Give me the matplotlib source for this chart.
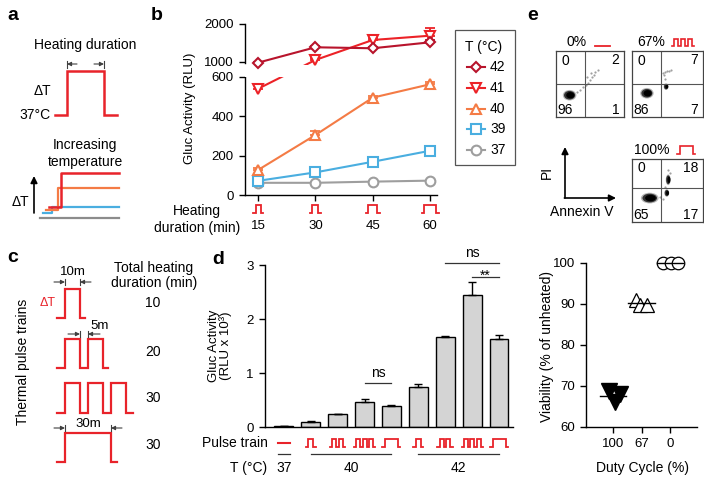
import numpy as np
import matplotlib
matplotlib.use("Agg")
import matplotlib.pyplot as plt
from matplotlib.patches import Rectangle, Ellipse
from matplotlib.lines import Line2D

plt.rcParams['font.family'] = ['Liberation Sans', 'DejaVu Sans']
plt.rcParams['font.size'] = 9.5
plt.rcParams['axes.linewidth'] = 1.0
plt.rcParams['xtick.major.width'] = 1.0
plt.rcParams['ytick.major.width'] = 1.0
plt.rcParams['xtick.major.size'] = 3.5
plt.rcParams['ytick.major.size'] = 3.5

# ------------------------------------------------------------------ data
durations = [15, 30, 45, 60]
duration_labels = ['15', '30', '45', '60']
temp_labels = ['42', '41', '40', '39', '37']
gluc_42 = [982, 1387, 1361, 1518]
gluc_41 = [540, 1053, 1579, 1692]
gluc_40 = [127, 305, 495, 563]
gluc_39 = [72, 115, 169, 225]
gluc_37 = [62, 62, 68, 73]
err_42 = [20, 30, 40, 60]
err_41 = [20, 40, 60, 195]
err_40 = [12, 22, 10, 10]
err_39 = [5, 8, 8, 10]
err_37 = [3, 3, 3, 3]
b_yticks = [0, 200, 400, 600, 1000, 2000]

d_pulse_types = ['none', 'p1', 'p2', 'p3', 'long', 'p1', 'p2', 'p3', 'long']
d_values = [0.02, 0.10, 0.24, 0.46, 0.39, 0.74, 1.66, 2.44, 1.63]
d_errors = [0.005, 0.01, 0.005, 0.05, 0.02, 0.05, 0.02, 0.25, 0.08]
d_temp_labels = ['37', '40', '42']
d_yticks = [0, 1, 2, 3]

duty_labels = ['100', '67', '0']
viab_100 = [68.7, 68.1, 66.2]
viab_67 = [90.9, 89.8, 89.8]
viab_0 = [100.0, 100.0, 100.0]
jit_100 = [-0.14, 0.25, 0.06]
jit_67 = [-0.21, -0.04, 0.19]
jit_0 = [-0.25, 0.03, 0.28]
viab_yticks = [60, 70, 80, 90, 100]

flow_titles = ['0%', '67%', '100%']
flow_quadrants = [[0, 2, 96, 1], [0, 7, 86, 7], [0, 18, 65, 17]]  # UL, UR, LL, LR
# dense cell populations per plot: centre x, centre y (axes fraction)
flow_pop_x = [[0.20], [0.21, 0.48], [0.25, 0.51, 0.49]]
flow_pop_y = [[0.33], [0.36, 0.46], [0.38, 0.67, 0.46]]
# sparse events per plot
flow_dot_x = [[0.31, 0.36, 0.40, 0.44, 0.47, 0.50, 0.53, 0.56, 0.58, 0.62, 0.52, 0.45],
              [0.43, 0.46, 0.49, 0.52, 0.55, 0.47, 0.45],
              [0.40, 0.44, 0.47, 0.53, 0.50]]
flow_dot_y = [[0.38, 0.41, 0.45, 0.48, 0.52, 0.56, 0.60, 0.64, 0.68, 0.71, 0.66, 0.60],
              [0.66, 0.68, 0.70, 0.69, 0.71, 0.58, 0.64],
              [0.40, 0.36, 0.56, 0.78, 0.82]]

c_durations = ['10', '20', '30', '30']

# ------------------------------------------------------------------ figure
W, H = 704, 480
fig = plt.figure(figsize=(7.04, 4.8), dpi=100)
RED = '#e8232a'
DARK = '#404040'


def rect(x0, y0, x1, y1):
    return [x0 / W, 1 - y1 / H, (x1 - x0) / W, (y1 - y0) / H]


ov = fig.add_axes([0, 0, 1, 1], zorder=10)
ov.set_xlim(0, W)
ov.set_ylim(H, 0)
ov.axis('off')
ov.patch.set_visible(False)


def px(ax, x, y):
    d = ax.transData.transform((x, y))
    return d[0], H - d[1]


def pulse(x0, yb, h, on, off, n, lead_in, lead_out, color=RED, lw=1.6):
    xs = [x0]
    ys = [yb]
    x = x0 + lead_in
    xs.append(x); ys.append(yb)
    for i in range(n):
        xs += [x, x + on, x + on]
        ys += [yb - h, yb - h, yb]
        x += on
        if i < n - 1:
            x += off
            xs.append(x); ys.append(yb)
    x += lead_out
    xs.append(x); ys.append(yb)
    ov.plot(xs, ys, color=color, lw=lw, solid_joinstyle='miter', clip_on=False)


def pulse_c(cx, yb, h, on, off, n, lead, color=RED, lw=1.3):
    total = 2 * lead + n * on + (n - 1) * off
    pulse(cx - total / 2, yb, h, on, off, n, lead, lead, color, lw)


def arrow(x1, y1, x2, y2, lw=0.8, color=DARK, ms=6):
    ov.annotate('', xy=(x2, y2), xytext=(x1, y1),
                arrowprops=dict(arrowstyle='-|>', lw=lw, color=color,
                                mutation_scale=ms, shrinkA=0, shrinkB=0))


def dim_outside(xl, xr, y, L=11):
    arrow(xl - L, y, xl, y)
    arrow(xr + L, y, xr, y)
    ov.plot([xl, xl], [y - 3, y + 3], color=DARK, lw=0.8)
    ov.plot([xr, xr], [y - 3, y + 3], color=DARK, lw=0.8)


def dim_inside(xl, xr, y, L=10):
    arrow(xl + L, y, xl, y)
    arrow(xr - L, y, xr, y)
    ov.plot([xl, xl], [y - 3.5, y + 3.5], color=DARK, lw=0.8)
    ov.plot([xr, xr], [y - 3.5, y + 3.5], color=DARK, lw=0.8)


LET = dict(fontsize=14, fontweight='bold', ha='left', va='center')

# ------------------------------------------------------------------ panel a
ov.text(7, 16, 'a', **LET)
ov.text(85, 45, 'Heating duration', ha='center', va='center', fontsize=10)
dim_inside(67, 104, 64)
pulse(55, 115, 44, 37, 0, 1, 12, 13, lw=1.8)
ov.text(42, 91, 'ΔT', ha='center', va='center', fontsize=10)
ov.text(51, 115, '37°C', ha='right', va='center', fontsize=10)
ov.text(85, 145, 'Increasing', ha='center', va='center', fontsize=10)
ov.text(85, 162, 'temperature', ha='center', va='center', fontsize=10)
arrow(34, 213, 34, 176, lw=1.2, color='black', ms=10)
ov.text(20, 202, 'ΔT', ha='center', va='center', fontsize=10)
ov.plot([40, 119], [218, 218], color='#8c8c8c', lw=1.6)
ov.plot([43, 52, 52, 119], [213, 213, 207, 207], color='#4aaee0', lw=1.6)
ov.plot([46, 58, 58, 119], [210, 210, 188, 188], color='#f47b45', lw=1.6)
ov.plot([49, 61, 61, 119], [207, 207, 173, 173], color=RED, lw=1.8)

# ------------------------------------------------------------------ panel b
ov.text(151, 16, 'b', **LET)
K_LO = 0.19667
GAP_F = 15 / K_LO
K_UP = 0.038 / K_LO


def fwd(v):
    v = np.asarray(v, float)
    return np.where(v <= 600, v,
                    np.where(v < 1000, 600 + (v - 600) / 400 * GAP_F,
                             600 + GAP_F + (v - 1000) * K_UP))


def inv(f):
    f = np.asarray(f, float)
    return np.where(f <= 600, f,
                    np.where(f < 600 + GAP_F, 600 + (f - 600) / GAP_F * 400,
                             1000 + (f - 600 - GAP_F) / K_UP))


axb = fig.add_axes(rect(245, 20, 437, 195))
axb.set_yscale('function', functions=(fwd, inv))
axb.set_ylim(0, 2105)
axb.set_xlim(11.6, 61.8)
for s in ['top', 'right']:
    axb.spines[s].set_visible(False)
axb.spines['left'].set_bounds(0, 600)
axb.plot([0, 0], [960, 2000], transform=axb.get_yaxis_transform(),
         color='black', lw=1.0, clip_on=False, zorder=5)
axb.set_yticks(b_yticks)
axb.set_yticklabels([str(v) for v in b_yticks])
axb.yaxis.set_minor_locator(matplotlib.ticker.NullLocator())
axb.set_xticks(durations)
axb.set_xticklabels(duration_labels)
axb.tick_params(axis='x', pad=14, length=4)
axb.tick_params(axis='y', pad=4, length=4)
axb.axhspan(605, 930, color='white', zorder=3, lw=0)

series = [
    (gluc_37, err_37, '#9e9e9e', 'o', 7),
    (gluc_39, err_39, '#4aaee0', 's', 6.5),
    (gluc_40, err_40, '#f47b45', '^', 7.5),
    (gluc_41, err_41, '#ec2227', 'v', 7.5),
    (gluc_42, err_42, '#b8142c', 'D', 5.5),
]
for vals, errs, col, mk, ms in series:
    axb.errorbar(durations, vals, yerr=[np.zeros(len(errs)), errs], fmt='none',
                 ecolor=col, elinewidth=1.3, capsize=3.5, capthick=1.3, zorder=1.9)
    axb.plot(durations, vals, color=col, lw=1.5, zorder=2)
    axb.plot(durations, vals, ls='none', marker=mk, ms=ms, mfc='white',
             mec=col, mew=1.5, zorder=4, clip_on=False)

ov.text(190, 108, 'Gluc Activity (RLU)', rotation=90, ha='center', va='center', fontsize=9.5)
ov.text(197, 211, 'Heating', ha='center', va='center', fontsize=10)
ov.text(197, 228, 'duration (min)', ha='center', va='center', fontsize=10)
b_on = [5, 6, 9, 12]
for dval, on in zip(durations, b_on):
    cx, _ = px(axb, dval, 0)
    pulse_c(cx, 213, 8, on, 0, 1, 2.5)

# legend
ov.add_patch(Rectangle((455, 30), 60, 135, fill=False, ec='#555555', lw=0.9))
ov.text(484, 47, 'T (°C)', ha='center', va='center', fontsize=10)
leg_y = [67, 88, 109, 129, 150]
for (vals, errs, col, mk, ms), t, yy in zip(series[::-1], temp_labels, leg_y):
    ov.add_line(Line2D([467, 485], [yy, yy], color=col, lw=1.5))
    ov.add_line(Line2D([476], [yy], marker=mk, ms=ms, mfc='white', mec=col, mew=1.5))
    ov.text(490, yy, t, ha='left', va='center', fontsize=10)

# ------------------------------------------------------------------ panel c
ov.text(7, 258, 'c', **LET)
ov.text(23, 362, 'Thermal pulse trains', rotation=90, ha='center', va='center', fontsize=10)
ov.text(154, 268, 'Total heating', ha='center', va='center', fontsize=10)
ov.text(154, 283, 'duration (min)', ha='center', va='center', fontsize=10)
for lab, yy in zip(c_durations, [303, 352, 398, 445]):
    ov.text(153, yy, lab, ha='center', va='center', fontsize=10)
pulse(57, 318, 29, 15, 0, 1, 8, 5)
pulse(57, 368, 29, 15, 8, 2, 8, 5)
pulse(57, 413, 30, 15, 8, 3, 8, 7)
pulse(57, 462, 29, 46, 0, 1, 8, 6)
ov.text(48, 303, 'ΔT', ha='center', va='center', fontsize=9, color=RED)
ov.text(73, 272, '10m', ha='center', va='center', fontsize=9.5)
dim_outside(65, 80, 282)
ov.text(100, 326, '5m', ha='center', va='center', fontsize=9.5)
arrow(68, 334, 80, 334)
arrow(100, 334, 88, 334)
ov.plot([80, 80], [331, 337], color=DARK, lw=0.8)
ov.plot([88, 88], [331, 337], color=DARK, lw=0.8)
ov.text(88, 424, '30m', ha='center', va='center', fontsize=9.5)
dim_outside(65, 111, 428)

# ------------------------------------------------------------------ panel d
ov.text(212, 260, 'd', **LET)
axd = fig.add_axes(rect(265, 265, 513, 427))
xb = np.arange(len(d_values))
axd.bar(xb, d_values, width=0.7, color='#d4d4d4', edgecolor='black', lw=1.0, zorder=2)
axd.errorbar(xb, d_values, yerr=[np.zeros(len(d_errors)), d_errors], fmt='none',
             ecolor='black', elinewidth=1.0, capsize=3, capthick=1.0, zorder=3)
axd.set_xlim(-0.7, 8.52)
axd.set_ylim(0, 3)
axd.set_yticks(d_yticks)
axd.set_xticks([])
for s in ['top', 'right']:
    axd.spines[s].set_visible(False)
axd.tick_params(axis='y', pad=4, length=4)

# significance
axd.plot([3, 4], [0.815, 0.815], color='#333333', lw=0.9, clip_on=False)
axd.text(3.5, 1.0, 'ns', ha='center', va='center', fontsize=10)
axd.plot([6, 8], [3.04, 3.04], color='#333333', lw=0.9, clip_on=False)
axd.text(7, 3.22, 'ns', ha='center', va='center', fontsize=10)
axd.plot([7, 8], [2.78, 2.78], color='#333333', lw=0.9, clip_on=False)
axd.text(7.5, 2.72, '**', ha='center', va='baseline', fontsize=10)

ov.text(220, 346, 'Gluc Activity\n(RLU x 10³)', rotation=90, ha='center', va='center',
        fontsize=9.5, linespacing=1.0)
ov.text(235, 443, 'Pulse train', ha='center', va='center', fontsize=10)
ov.text(249, 468, 'T (°C)', ha='center', va='center', fontsize=10)
for i, pt in enumerate(d_pulse_types):
    cx, _ = px(axd, i, 0)
    if pt == 'none':
        ov.plot([cx - 6, cx + 6], [443, 443], color=RED, lw=1.5)
    elif pt == 'p1':
        pulse_c(cx, 447, 8, 5, 0, 1, 2.5)
    elif pt == 'p2':
        pulse_c(cx, 447, 8, 4, 2.5, 2, 2.5)
    elif pt == 'p3':
        pulse_c(cx, 447, 8, 4, 2.5, 3, 2)
    else:
        pulse_c(cx, 447, 8, 13, 0, 1, 2.5)
groups = [(0, 0), (1, 4), (5, 8)]
for lab, (i0, i1) in zip(d_temp_labels, groups):
    xa, _ = px(axd, i0, 0)
    xz, _ = px(axd, i1, 0)
    if i0 == i1:
        xa, xz = xa - 6, xz + 6
    ov.plot([xa, xz], [454, 454], color='#333333', lw=0.9)
    ov.text((xa + xz) / 2, 468, lab, ha='center', va='center', fontsize=10)

# ------------------------------------------------------------------ panel e (flow)
ov.text(527, 16, 'e', **LET)
boxes = [(556, 51, 624, 117), (632, 51, 703, 117), (632, 159, 703, 222)]
vlines = [0.42, 0.41, 0.41]
hlines = [0.50, 0.50, 0.54]
# size (w, h in axes fraction) of each dense population
pop_sizes = [[(0.20, 0.16)], [(0.19, 0.16), (0.07, 0.10)],
             [(0.25, 0.17), (0.07, 0.17), (0.07, 0.12)]]
for k, (x0, y0, x1, y1) in enumerate(boxes):
    axf = fig.add_axes(rect(x0, y0, x1, y1))
    axf.set_xlim(0, 1)
    axf.set_ylim(0, 1)
    axf.set_xticks([])
    axf.set_yticks([])
    for s in axf.spines.values():
        s.set_linewidth(0.9)
        s.set_color('#444444')
    axf.axvline(vlines[k], color='#555555', lw=0.8)
    axf.axhline(hlines[k], color='#555555', lw=0.8)
    axf.scatter(flow_dot_x[k], flow_dot_y[k], s=2.5, color='#888888', lw=0, alpha=0.8)
    for (cxv, cyv), (w, h) in zip(zip(flow_pop_x[k], flow_pop_y[k]), pop_sizes[k]):
        axf.add_patch(Ellipse((cxv, cyv), w, h, fc='#9a9a9a', ec='none', alpha=0.7))
        axf.add_patch(Ellipse((cxv, cyv), w * 0.82, h * 0.82, fc='#333333', ec='none'))
        axf.add_patch(Ellipse((cxv + 0.01, cyv), w * 0.6, h * 0.6, fc='#000000', ec='none'))
    q = flow_quadrants[k]
    axf.text(0.08, 0.85, str(q[0]), ha='left', va='center', fontsize=10)
    axf.text(0.93, 0.86, str(q[1]), ha='right', va='center', fontsize=10)
    axf.text(0.02, 0.11, str(q[2]), ha='left', va='center', fontsize=10)
    axf.text(0.93, 0.11, str(q[3]), ha='right', va='center', fontsize=10)

ov.text(577, 42, flow_titles[0], ha='center', va='center', fontsize=10)
ov.plot([595, 610], [46, 46], color=RED, lw=1.3)
ov.text(651, 42, flow_titles[1], ha='center', va='center', fontsize=10)
pulse(672, 46, 7, 4.5, 2.5, 3, 1.5, 1.5, lw=1.2)
ov.text(652, 150, flow_titles[2], ha='center', va='center', fontsize=10)
pulse(677, 154, 8, 13, 0, 1, 2.5, 2.5, lw=1.2)
arrow(565, 198, 565, 147, lw=1.2, color='black', ms=10)
arrow(564.4, 198, 616, 198, lw=1.2, color='black', ms=10)
ov.text(547, 172, 'PI', rotation=90, ha='center', va='center', fontsize=10)
ov.text(582, 212, 'Annexin V', ha='center', va='center', fontsize=10)

# ------------------------------------------------------------------ panel e (viability)
axv = fig.add_axes(rect(586, 263, 697, 427))
axv.set_xlim(-0.95, 2.95)
axv.set_ylim(60, 100)
for s in ['top', 'right']:
    axv.spines[s].set_visible(False)
axv.set_yticks(viab_yticks)
axv.set_xticks([0, 1, 2])
axv.set_xticklabels(duty_labels)
axv.tick_params(axis='x', pad=4, length=4)
axv.tick_params(axis='y', pad=4, length=4)
axv.plot(np.array(jit_100) + 0, viab_100, ls='none', marker='v', ms=11, mfc='black',
         mec='black', zorder=3, clip_on=False)
axv.plot(np.array(jit_67) + 1, viab_67, ls='none', marker='^', ms=9.5, mfc='white',
         mec='black', mew=0.9, zorder=3, clip_on=False)
axv.plot(np.array(jit_0) + 2, viab_0, ls='none', marker='o', ms=9, mfc='white',
         mec='black', mew=0.9, zorder=3, clip_on=False)
for i, vals in enumerate([viab_100, viab_67, viab_0]):
    m = float(np.mean(vals))
    axv.plot([i - 0.47, i + 0.47], [m, m], color='black', lw=1.0, zorder=4, clip_on=False)
ov.text(547, 346, 'Viability (% of unheated)', rotation=90, ha='center', va='center', fontsize=10)
ov.text(642, 468, 'Duty Cycle (%)', ha='center', va='center', fontsize=10)

fig.savefig('out.png', dpi=100)
